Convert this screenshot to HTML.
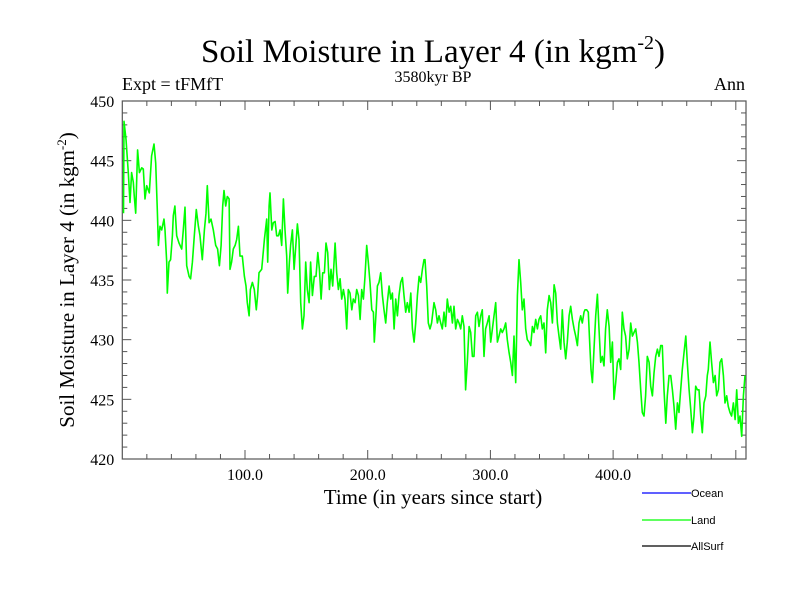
<!DOCTYPE html>
<html><head><meta charset="utf-8"><style>
html,body{margin:0;padding:0;background:#fff;}
svg{display:block;}
.serif{font-family:"Liberation Serif",serif;fill:#000;}
.sans{font-family:"Liberation Sans",sans-serif;fill:#000;}
</style></head><body>
<svg id="chart" width="800" height="600" viewBox="0 0 800 600" xmlns="http://www.w3.org/2000/svg">
<text class="serif" x="433" y="62" font-size="33" text-anchor="middle">Soil Moisture in Layer 4 (in kgm<tspan dy="-13" font-size="20">-2</tspan><tspan dy="13">)</tspan></text>
<text class="serif" x="122" y="90" font-size="18">Expt = tFMfT</text>
<text class="serif" x="433" y="82" font-size="16" text-anchor="middle">3580kyr BP</text>
<text class="serif" x="745" y="90" font-size="18" text-anchor="end">Ann</text>
<text class="serif" transform="translate(74,280) rotate(-90)" font-size="21" text-anchor="middle">Soil Moisture in Layer 4 (in kgm<tspan dy="-8" font-size="13">-2</tspan><tspan dy="8">)</tspan></text>
<text class="serif" x="433" y="504" font-size="21" text-anchor="middle">Time (in years since start)</text>
<g id="axes"></g>
<g id="series"></g>
<g>
<line x1="642" y1="493" x2="691" y2="493" stroke="#0000ff" stroke-width="1.3"/>
<text class="sans" x="691" y="497" font-size="11">Ocean</text>
<line x1="642" y1="520" x2="691" y2="520" stroke="#00ff00" stroke-width="1.3"/>
<text class="sans" x="691" y="524" font-size="11">Land</text>
<line x1="642" y1="546" x2="691" y2="546" stroke="#000" stroke-width="1.3"/>
<text class="sans" x="691" y="550" font-size="11">AllSurf</text>
</g>
</svg>
<script>
const xTickValues = [100, 200, 300, 400];
const xTickLabels = ["100.0", "200.0", "300.0", "400.0"];
const yTickValues = [420, 425, 430, 435, 440, 445, 450];
const yTickLabels = ["420", "425", "430", "435", "440", "445", "450"];
const landYears = [1,1.4,3.0,4.9,6.3,7.6,9.0,9.8,10.9,12.5,13.9,15.8,17.1,18.5,19.9,22.0,23.9,25.8,27.2,28.5,29.4,30.7,32.1,34.0,34.8,36.2,36.7,38.1,39.4,40.8,41.6,42.9,44.3,46.2,48.4,49.7,51.1,52.5,54.4,55.7,57.1,58.7,60.3,62.0,63.3,65.2,66.9,68.2,69.3,70.7,72.3,74.2,76.1,77.7,79.1,80.5,81.8,82.9,84.3,85.6,87.0,87.8,89.1,90.5,91.9,93.2,94.6,95.9,97.8,99.5,100.8,101.9,103.3,104.4,106.0,107.6,109.2,110.3,111.4,113.6,115.8,117.7,118.5,119.6,
120.4,121.8,123.1,124.5,125.8,127.2,128.6,129.9,131.3,132.6,134.0,134.8,136.2,137.2,138.6,140.0,141.6,142.7,144.0,145.4,146.8,148.1,149.5,150.8,152.2,153.5,154.9,156.5,157.9,159.3,160.6,162.0,163.3,164.7,166.0,167.4,168.8,170.1,171.5,173.4,174.7,176.1,177.5,178.8,180.2,181.5,182.9,184.2,185.6,187.0,188.3,189.7,191.0,192.4,193.8,195.1,196.5,197.8,199.2,200.5,201.9,203.3,204.6,205.4,206.8,207.9,209.2,210.6,212.0,213.3,214.7,216.0,217.4,218.8,220.1,221.5,222.8,224.2,225.5,226.9,228.3,229.6,231.0,232.3,233.7,235.1,236.4,237.8,239.1,240.5,241.9,243.2,244.6,245.9,
246.7,248.1,249.4,250.8,252.1,254.0,255.4,256.8,258.1,259.5,260.8,262.2,263.5,264.9,266.3,267.6,269.0,270.3,271.7,273.1,274.4,275.8,277.1,278.5,279.8,281.2,282.6,283.9,285.3,286.6,288.0,289.4,290.7,292.1,293.4,294.8,296.1,297.5,298.9,300.2,301.6,302.9,304.3,305.7,307.0,308.4,309.7,311.1,312.5,313.8,315.2,316.5,317.9,319.2,320.6,322.0,323.3,324.7,326.0,327.4,328.8,330.1,331.5,332.8,334.2,335.5,336.9,338.3,339.6,341.0,342.3,343.7,345.1,346.4,347.8,349.1,350.5,351.9,353.2,354.6,355.9,357.3,358.6,360.0,361.4,362.7,364.1,365.4,366.8,368.2,369.5,370.9,372.2,373.6,374.9,376.3,
377.1,378.5,379.8,381.2,382.0,383.1,384.4,385.8,387.2,388.5,389.9,391.2,392.6,393.9,395.3,396.7,398.0,399.4,400.7,402.1,403.5,404.8,406.2,407.5,408.9,410.2,411.6,413.0,414.3,415.7,417.0,418.4,419.8,421.1,422.5,423.8,425.2,426.5,427.9,429.3,430.6,432.0,433.3,434.7,436.1,437.4,438.8,440.1,441.5,442.9,444.2,445.6,446.9,448.3,449.6,451.0,452.4,453.7,455.1,456.4,457.8,459.2,460.5,461.9,463.2,464.6,465.9,467.3,468.7,470.0,471.4,472.7,474.1,475.5,476.8,477.6,479.0,480.3,481.7,483.1,484.4,485.8,487.1,488.5,489.9,491.2,492.6,493.9,495.3,496.6,498.0,499.4,500.7,502.1,503.4,504.8,506.2,507.5];
const landValues = [440.6,448.3,446.8,444.0,441.5,444.0,443.2,442.0,440.6,445.9,444.0,444.4,444.3,441.8,442.9,442.3,445.4,446.4,444.8,440.9,437.9,439.5,439.2,440.1,439.2,436.5,433.9,436.5,436.7,438.7,440.4,441.2,438.7,438.1,437.6,439.2,441.1,436.2,435.3,435.1,436.5,438.7,440.9,439.5,438.7,436.7,439.2,440.6,442.9,439.8,440.1,439.2,437.9,437.6,436.2,437.9,441.2,442.5,441.2,442.0,441.8,435.9,436.5,437.6,437.9,438.4,439.5,437.0,437.0,435.3,434.5,433.1,432.0,434.2,434.8,434.2,432.5,433.7,435.6,435.9,438.4,440.1,436.5,441.2,
442.3,439.2,439.8,439.9,438.7,438.7,439.2,437.9,441.8,439.2,437.0,433.9,436.5,437.9,439.2,435.9,438.1,439.7,438.4,433.1,430.9,432.0,436.5,434.2,433.1,436.5,433.7,435.3,435.3,437.3,435.9,433.4,435.6,435.6,438.1,437.3,434.2,435.9,434.5,438.1,435.6,434.2,435.1,433.4,434.2,433.4,430.9,434.2,433.9,432.5,433.4,433.1,434.2,433.7,431.7,434.2,433.4,435.3,437.9,436.5,434.8,432.5,432.3,429.8,432.3,434.5,434.8,435.6,433.7,432.5,431.4,433.1,434.5,433.4,433.9,430.9,433.4,432.0,433.7,434.8,435.2,433.7,432.3,433.1,432.3,433.9,430.9,429.8,431.4,433.7,435.3,434.8,435.9,436.7,
436.7,434.5,431.4,430.9,431.4,433.1,432.5,431.4,432.0,431.4,430.9,432.3,431.1,433.4,432.3,432.8,431.4,432.8,430.9,431.7,431.4,430.9,432.0,431.1,425.8,428.1,431.1,430.6,428.6,428.6,432.0,432.3,431.1,432.0,432.5,428.6,430.9,431.4,432.0,429.8,430.9,432.0,433.1,429.8,430.3,430.9,430.6,430.9,431.4,430.0,428.9,428.1,427.0,430.3,426.4,433.7,436.7,434.8,432.5,433.4,430.9,430.0,429.8,429.5,431.1,430.6,431.7,430.9,431.7,432.0,430.9,431.4,428.9,432.5,433.7,433.1,431.4,434.6,433.9,431.4,430.3,429.2,432.5,429.8,428.4,429.8,432.0,432.8,431.7,430.9,430.3,429.5,431.4,432.0,431.4,432.3,432.5,
432.5,432.3,429.2,427.5,426.4,429.2,432.0,433.8,430.9,428.1,428.6,427.8,430.9,432.5,431.1,428.1,429.8,425.0,426.4,428.1,428.4,427.5,432.3,430.9,430.3,428.4,429.2,431.4,430.3,430.6,430.9,429.8,428.1,425.8,423.9,423.6,425.3,428.6,428.1,426.1,425.3,427.2,428.6,429.2,428.6,429.5,429.5,425.8,423.0,425.3,427.0,427.0,425.8,424.4,422.5,424.7,423.9,425.8,427.5,428.9,430.3,428.1,425.8,424.2,422.2,423.6,426.1,425.8,425.8,423.6,422.2,424.7,425.3,427.0,427.5,429.8,428.1,426.4,427.0,425.3,425.8,428.1,428.4,427.0,424.7,425.3,424.4,423.9,423.6,424.7,423.3,425.8,423.0,423.6,421.9,425.3,427.0,428.6];

const NS = "http://www.w3.org/2000/svg";
const L = 122.3, R = 746, T = 101, B = 459;
const xMin = 0, xMax = 508.3, yMin = 420, yMax = 450;
function xScale(v){ return L + (v - xMin) / (xMax - xMin) * (R - L); }
function yScale(v){ return B - (v - yMin) / (yMax - yMin) * (B - T); }
function mk(tag, attrs, parent){ const e = document.createElementNS(NS, tag); for (const k in attrs) e.setAttribute(k, attrs[k]); parent.appendChild(e); return e; }

const axes = document.getElementById('axes');
const frame = mk('rect', {x:L, y:T, width:R-L, height:B-T, fill:'none', stroke:'#555', 'stroke-width':1.2}, axes);



for (let v = 20; v < xMax; v += 20) {
  const x = xScale(v);
  const major = v % 100 === 0;
  const len = major ? 9 : 5;
  const t1 = mk('line', {x1:x, y1:B, x2:x, y2:B-len, stroke:'#555', 'stroke-width':1}, axes);
  
  
  const t2 = mk('line', {x1:x, y1:T, x2:x, y2:T+len, stroke:'#555', 'stroke-width':1}, axes);
  
  
}
xTickValues.forEach((v, i) => {
  const t = mk('text', {x:xScale(v), y:B+21, 'font-size':16, 'text-anchor':'middle', class:'serif'}, axes);
  t.textContent = xTickLabels[i];
  
  
});
for (let v = yMin + 1; v < yMax; v += 1) {
  const y = yScale(v);
  const major = v % 5 === 0;
  const len = major ? 9 : 5;
  const t1 = mk('line', {x1:L, y1:y, x2:L+len, y2:y, stroke:'#555', 'stroke-width':1}, axes);
  
  
  const t2 = mk('line', {x1:R, y1:y, x2:R-len, y2:y, stroke:'#555', 'stroke-width':1}, axes);
  
  
}
yTickValues.forEach((v, i) => {
  const t = mk('text', {x:L-8, y:yScale(v)+6, 'font-size':16, 'text-anchor':'end', class:'serif'}, axes);
  t.textContent = yTickLabels[i];
  
  
});

const series = document.getElementById('series');
const pts = landYears.map((yr, i) => xScale(yr).toFixed(1) + ',' + yScale(landValues[i]).toFixed(1)).join(' ');
const line = mk('polyline', {points:pts, fill:'none', stroke:'#00ff00', 'stroke-width':1.6, 'stroke-linejoin':'round'}, series);


</script>
</body></html>
